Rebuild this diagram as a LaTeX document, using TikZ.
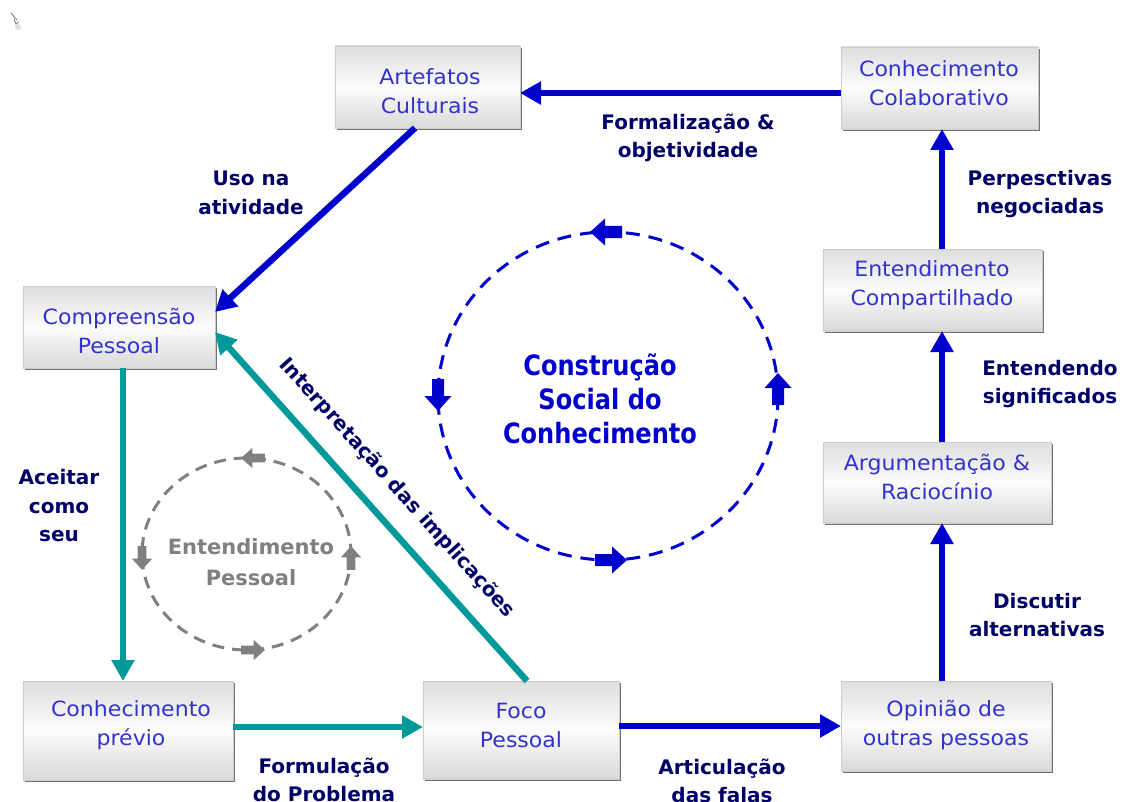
\documentclass[tikz,border=0pt]{standalone}
\usepackage{fontspec}
\setmainfont{DejaVu Sans}
\newfontfamily\boxfont[FakeStretch=1.05]{DejaVu Sans}
\newfontfamily\ctrfont[FakeStretch=0.86]{DejaVu Sans}
\usetikzlibrary{arrows.meta,shadows}

\definecolor{boxtext}{RGB}{51,51,204}
\definecolor{navy}{RGB}{0,0,102}
\definecolor{flowblue}{RGB}{0,0,204}
\definecolor{flowteal}{RGB}{0,153,153}
\definecolor{loopgray}{RGB}{128,128,128}

\tikzset{
  stage/.style={rectangle, draw=black!20, line width=0.8pt, outer sep=0pt,
    top color=black!13, bottom color=black!15, middle color=black!1,
    drop shadow={shadow xshift=2pt, shadow yshift=-2pt, fill=black!55, opacity=1}},
  stagetext/.style={text=boxtext, align=center, inner sep=0pt,
    font=\boxfont\fontsize{21}{29}\selectfont},
  lbl/.style={text=navy, align=center, font=\bfseries\fontsize{20}{28.5}\selectfont, inner sep=1pt},
  flow/.style={line width=6.5pt, -{Triangle[length=21pt,width=22pt]}},
  bigdash/.style={draw=flowblue, line width=3pt, dash pattern=on 14pt off 9pt},
  smalldash/.style={draw=loopgray, line width=3pt, dash pattern=on 12pt off 8pt},
  blkarrow/.pic={\fill[pic actions] (-16,-6) -- (1,-6) -- (1,-13.5) -- (16,0)
      -- (1,13.5) -- (1,6) -- (-16,6) -- cycle;}
}

\begin{document}
\begin{tikzpicture}[x=1pt,y=-1pt]
\useasboundingbox[fill=white] (0,0) rectangle (1123,802);

% mouse pointer in the corner
\draw[black!55, line width=0.8pt] (11,13) -- (17,20) (14,19) -- (16,24) -- (19,22);
\fill[black!12] (18,27) circle (3);

% stages of knowledge building (boxes)
\node[stage, minimum width=185, minimum height=82] (art)   at (427.5,87)  {};
\node[stage, minimum width=197, minimum height=82] (colab) at (939.5,88)  {};
\node[stage, minimum width=219, minimum height=82] (ent)   at (932.5,290) {};
\node[stage, minimum width=228, minimum height=81] (arg)   at (937,482.5) {};
\node[stage, minimum width=192, minimum height=82] (comp)  at (119,327)   {};
\node[stage, minimum width=210, minimum height=99] (prev)  at (128,730.5) {};
\node[stage, minimum width=196, minimum height=98] (foco)  at (521,730)   {};
\node[stage, minimum width=210, minimum height=90] (op)    at (946,726)   {};

% stage titles
\node[stagetext] (art-t)   at (430,91.5)  {Artefatos\\Culturais};
\node[stagetext] (colab-t) at (939,83)    {Conhecimento\\Colaborativo};
\node[stagetext] (ent-t)   at (932,285)   {Entendimento\\Compartilhado};
\node[stagetext] (arg-t)   at (937,476.5) {Argumentação \&\\Raciocínio};
\node[stagetext] (comp-t)  at (119,330.5) {Compreensão\\Pessoal};
\node[stagetext] (prev-t)  at (131,725)   {Conhecimento\\prévio};
\node[stagetext] (foco-t)  at (521,725.5) {Foco\\Pessoal};
\node[stagetext] (op-t)    at (946,725.5) {Opinião de\\outras pessoas};

\coordinate (vx) at (942,0);

% social cycle (blue)
\draw[flow, flowblue] ([yshift=-5pt]colab.west) -- ([yshift=-5pt]colab.west -| art.east);
\draw[flow, flowblue] ([xshift=-12.5pt]art.south) -- ([yshift=15pt]comp.east);
\draw[flow, flowblue] (foco.east |- op.west) -- (op.west);
\draw[flow, flowblue] (op.north -| vx) -- (arg.south -| vx);
\draw[flow, flowblue] (arg.north -| vx) -- (ent.south -| vx);
\draw[flow, flowblue] (ent.north -| vx) -- (colab.south -| vx);

% personal cycle (teal)
\draw[flow, flowteal] ([xshift=4pt]comp.south) -- ([xshift=4pt]comp.south |- prev.north);
\draw[flow, flowteal] ([yshift=3.5pt]prev.east) -- ([yshift=3.5pt]prev.east -| foco.west);
\draw[flow, flowteal] ([xshift=6pt]foco.north) -- ([yshift=-5pt]comp.east);

% connector labels
\node[lbl] (l1) at (688,138) {Formalização \&\\objetividade};
\node[lbl] (l2) at (251,193) {Uso na\\atividade};
\node[lbl] (l3) at (1040,194) {Perpesctivas\\negociadas};
\node[lbl] (l4) at (1050,384) {Entendendo\\significados};
\node[lbl] (l5) at (1037,615) {Discutir\\alternativas};
\node[lbl] (l6) at (59,506) {Aceitar\\como\\seu};
\node[lbl] (l7) at (324,780) {Formulação\\do Problema};
\node[lbl] (l8) at (722,781) {Articulação\\das falas};
\node[lbl, rotate=-48] (l9) at (397,488) {Interpretação das implicações};

% social construction loop
\draw[bigdash] (608,396) ellipse [x radius=170, y radius=164];
\pic[fill=flowblue, rotate=180] at (606,232) {blkarrow};
\pic[fill=flowblue, rotate=-90] at (438,395) {blkarrow};
\pic[fill=flowblue] at (611,560) {blkarrow};
\pic[fill=flowblue, rotate=90] at (778,389) {blkarrow};
\node[text=flowblue, align=center, font=\ctrfont\bfseries\fontsize{28}{34}\selectfont] (csc) at (600,399)
  {Construção\\Social do\\Conhecimento};

% personal understanding loop
\draw[smalldash] (246.5,554) ellipse [x radius=104.5, y radius=96];
\pic[fill=loopgray, rotate=180, scale=0.74] at (253,458) {blkarrow};
\pic[fill=loopgray, rotate=-90, scale=0.74] at (142,558) {blkarrow};
\pic[fill=loopgray, scale=0.74] at (253,650) {blkarrow};
\pic[fill=loopgray, rotate=90, scale=0.74] at (351,558) {blkarrow};
\node[text=loopgray, align=center, font=\bfseries\fontsize{21}{31}\selectfont] (ep) at (251,562)
  {Entendimento\\Pessoal};
\end{tikzpicture}
\end{document}
